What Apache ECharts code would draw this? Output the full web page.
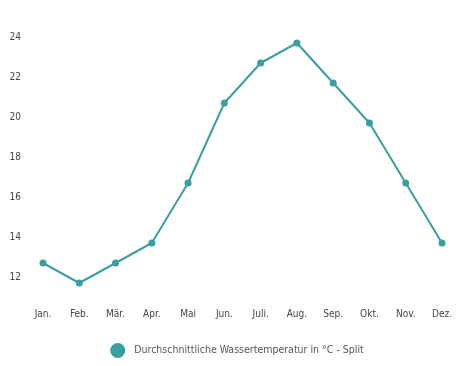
<!DOCTYPE html>
<html><head><meta charset="utf-8">
<script src="https://cdn.jsdelivr.net/npm/echarts@6/dist/echarts.min.js"></script>
<style>html,body{margin:0;padding:0;background:#fff}#c{width:474px;height:366px}</style>
</head><body><div id="c"></div>
<script>
const categories = ['Jan.','Feb.','Mär.','Apr.','Mai','Jun.','Juli.','Aug.','Sep.','Okt.','Nov.','Dez.'];
const temps = [12.7, 11.7, 12.7, 13.7, 16.7, 20.7, 22.7, 23.7, 21.7, 19.7, 16.7, 13.7];
const seriesName = 'Durchschnittliche Wassertemperatur in °C - Split';
const FONT = '"DejaVu Sans Condensed", "Liberation Sans Narrow", sans-serif';
const chart = echarts.init(document.getElementById('c'), null, {renderer:'canvas'});
chart.setOption({
  animation:false,
  textStyle:{fontFamily:FONT},
  grid:{left:43, right:32, top:37, bottom:69},
  legend:{bottom:3, left:'center', icon:'circle', itemWidth:15, itemHeight:15, itemGap:10,
    textStyle:{fontFamily:FONT, fontSize:10.5, color:'#555', padding:[0,0,0,4]}},
  xAxis:{type:'category', data:categories, boundaryGap:false,
    axisLine:{show:false}, axisTick:{show:false}, splitLine:{show:false},
    axisLabel:{margin:12, fontSize:10, color:'#444', fontFamily:FONT}},
  yAxis:{type:'value', min:11, max:24, interval:1,
    axisLine:{show:false}, axisTick:{show:false}, splitLine:{show:false},
    axisLabel:{margin:22, fontSize:10, color:'#444', fontFamily:FONT,
      formatter:v => (v % 2 === 0 ? String(v) : '')}},
  series:[{name:seriesName, type:'line', data:temps, color:'#3a9fa0',
    symbol:'circle', symbolSize:7, lineStyle:{width:2},
    itemStyle:{color:'#3a9fa0'}}]
});
</script></body></html>
